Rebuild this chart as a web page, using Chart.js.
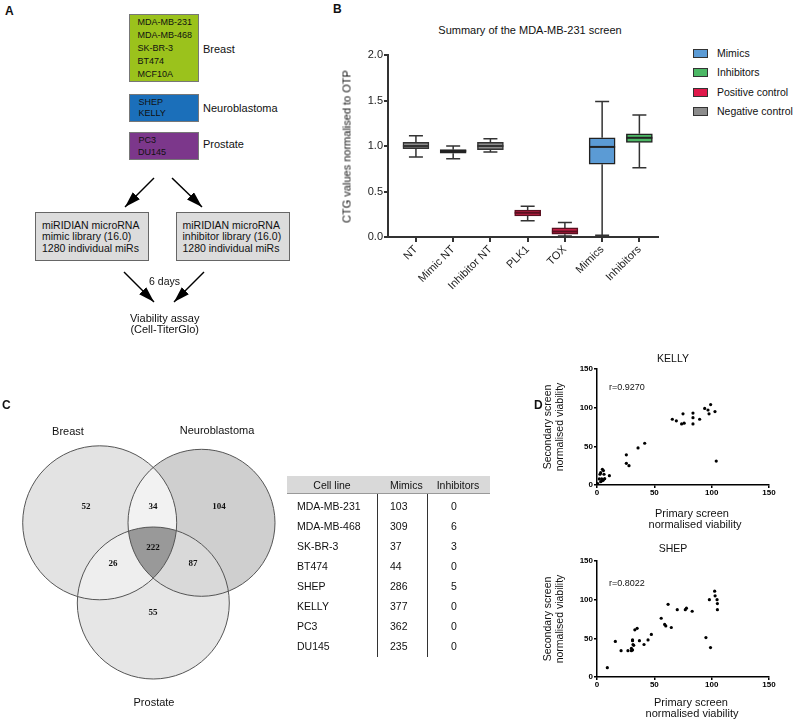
<!DOCTYPE html>
<html>
<head>
<meta charset="utf-8">
<script src="https://cdn.jsdelivr.net/npm/chart.js@4.4.1/dist/chart.umd.min.js"></script>
<style>
body { margin: 0; background: #fff; }
#fig { position: relative; width: 796px; height: 723px; overflow: hidden; font-family: "Liberation Sans", Arial, sans-serif; color: #111; }
.t { position: absolute; white-space: nowrap; }
.box { position: absolute; box-sizing: border-box; border: 1px solid #777; }
.cv { position: absolute; }
.vl { position: absolute; width: 1px; background: #333; }
</style>
</head>
<body>
<div id="fig">
  <div class="box" style="left:129px;top:14px;width:70px;height:68px;background:#9bc21c;"></div>
  <div class="box" style="left:129px;top:94px;width:70px;height:28px;background:#1b6fba;"></div>
  <div class="box" style="left:129px;top:132px;width:70px;height:28px;background:#7c378b;"></div>
  <div class="box" style="left:35px;top:212px;width:114px;height:49px;background:#dcdcdc;border-color:#666;"></div>
  <div class="box" style="left:176px;top:212px;width:114px;height:49px;background:#dcdcdc;border-color:#666;"></div>
  <svg width="796" height="723" style="position:absolute;left:0;top:0;">
    <defs>
      <marker id="ah" viewBox="0 0 16 10" refX="16" refY="5" markerWidth="16" markerHeight="10" markerUnits="userSpaceOnUse" orient="auto">
        <path d="M0,0 L16,5 L0,10 z" fill="#000"/>
      </marker>
    </defs>
    <line x1="154" y1="178" x2="125" y2="207" stroke="#000" stroke-width="1.5" marker-end="url(#ah)"/>
    <line x1="172" y1="178" x2="202" y2="207" stroke="#000" stroke-width="1.5" marker-end="url(#ah)"/>
    <line x1="124" y1="272" x2="154" y2="302" stroke="#000" stroke-width="1.5" marker-end="url(#ah)"/>
    <line x1="204" y1="272" x2="174" y2="302" stroke="#000" stroke-width="1.5" marker-end="url(#ah)"/>
  </svg>
  <div class="cv" style="left:360px;top:45px;"><canvas id="boxChart" width="310" height="280"></canvas></div>
  <div class="cv" style="left:0px;top:400px;"><canvas id="venn" width="300" height="300"></canvas></div>
  <div class="cv" style="left:538px;top:350px;"><canvas id="kelly" width="242" height="150"></canvas></div>
  <div class="cv" style="left:538px;top:542px;"><canvas id="shep" width="242" height="150"></canvas></div>
  <div style="position:absolute;left:287px;top:476px;width:203px;height:18px;background:#d9d9d9;border-bottom:1px solid #999;box-sizing:border-box;"></div>
  <div class="vl" style="left:377px;top:494px;height:163px;"></div>
  <div class="vl" style="left:427px;top:494px;height:163px;"></div>
</div>
<script>
// panel B: box plot summary
var boxLabels = ['NT', 'Mimic NT', 'Inhibitor NT', 'PLK1', 'TOX', 'Mimics', 'Inhibitors'];
var boxMin = [0.88, 0.86, 0.935, 0.178, 0.01, 0.02, 0.76];
var boxQ1 = [0.97, 0.92, 0.96, 0.233, 0.03, 0.80, 1.04];
var boxMed = [1.00, 0.945, 1.00, 0.266, 0.06, 0.99, 1.09];
var boxQ3 = [1.04, 0.96, 1.04, 0.295, 0.10, 1.09, 1.135];
var boxMax = [1.114, 1.00, 1.08, 0.339, 0.16, 1.49, 1.34];
var boxFill = ['#8c8c8c', '#5a5a5a', '#8c8c8c', '#c41f45', '#c41f45', '#5b9bd5', '#4cb865'];
var boxEdge = ['#333', '#222', '#333', '#5a1020', '#5a1020', '#222', '#222'];

var legendLabels = ['Mimics', 'Inhibitors', 'Positive control', 'Negative control'];
var legendColors = ['#5b9bd5', '#4cb865', '#e0194b', '#8c8c8c'];

// panel C
var vennSets = ['Breast', 'Neuroblastoma', 'Prostate'];
var vennCounts = [52, 34, 104, 222, 26, 87, 55];
var cellLines = ['MDA-MB-231', 'MDA-MB-468', 'SK-BR-3', 'BT474', 'SHEP', 'KELLY', 'PC3', 'DU145'];
var mimicHits = [103, 309, 37, 44, 286, 377, 362, 235];
var inhibitorHits = [0, 6, 3, 0, 5, 0, 0, 0];

// panel D
var axisTicks = [0, 50, 100, 150];
var kellyX = [0.6, 2.6, 3.2, 4.7, 5.6, 6.1, 2, 4.1, 4.7, 3.2, 5.6, 6.7, 10.8, 25.6, 25.6, 27.9, 35.8, 41.6, 65.7, 69.2, 75, 73.8, 76, 83.7, 83.7, 83.7, 89.5, 93.9, 96.8, 97.7, 99.1, 102.9, 104];
var kellyY = [1.7, 13.9, 16, 20.3, 18.6, 13.9, 7.8, 7.8, 5.6, 4.3, 6.5, 8.2, 12.1, 39, 28, 25, 48, 54, 85, 83, 92, 79, 80, 93, 87, 79, 85, 99, 97, 92, 104, 95, 31];
var shepX = [9, 16, 21, 27, 30, 31, 30, 31, 31, 31.4, 32, 33, 35, 37, 41, 44.5, 47.4, 56, 59, 60, 62, 64.8, 70, 77, 78, 83, 95, 98, 99, 102.6, 103, 104.7, 105, 105];
var shepY = [12, 46, 34, 34, 34, 35, 37, 47, 48, 42, 41, 61, 63, 47, 42, 48, 55, 76, 68, 66, 94, 64, 87, 87, 89, 85, 51, 100, 38, 111, 105, 100, 95, 87];

var FONT = '"Liberation Sans", Arial, sans-serif';
Chart.defaults.font.family = FONT;
Chart.defaults.color = '#222';

var fig = document.getElementById('fig');
// text placed without css transforms (except the one rotated title in panel B)
function T(s, x, y, o) {
  o = o || {};
  var size = o.size || 11;
  var d = document.createElement('div');
  d.className = 't';
  d.textContent = s;
  d.style.fontSize = size + 'px';
  d.style.lineHeight = size + 'px';
  d.style.top = (y - size / 2) + 'px';
  if (o.bold) d.style.fontWeight = 'bold';
  if (o.a === 'c') {
    d.style.left = (x - 200) + 'px';
    d.style.width = '400px';
    d.style.textAlign = 'center';
  } else {
    d.style.left = x + 'px';
  }
  if (o.rot) {
    d.style.transformOrigin = '200px ' + (size / 2) + 'px';
    d.style.transform = 'rotate(' + o.rot + 'deg)';
  }
  fig.appendChild(d);
}

// panel A
T('A', 5, 11, {bold: true, size: 12});
['MDA-MB-231', 'MDA-MB-468', 'SK-BR-3', 'BT474', 'MCF10A'].forEach(function(s, i) { T(s, 137.5, 22.3 + i * 13.1, {size: 9}); });
T('SHEP', 138.5, 102, {size: 9});
T('KELLY', 138.5, 113.5, {size: 9});
T('PC3', 138.5, 140, {size: 9});
T('DU145', 138, 152, {size: 9});
T('Breast', 203, 49, {size: 11});
T('Neuroblastoma', 203, 108, {size: 11});
T('Prostate', 203, 144, {size: 11});
['miRIDIAN microRNA', 'mimic library (16.0)', '1280 individual miRs'].forEach(function(s, i) { T(s, 42, 225 + i * 11.7, {size: 10.5}); });
['miRIDIAN microRNA', 'inhibitor library (16.0)', '1280 individual miRs'].forEach(function(s, i) { T(s, 182.5, 225 + i * 11.7, {size: 10.5}); });
T('6 days', 164.5, 281, {size: 10.5, a: 'c'});
T('Viability assay', 164.7, 318, {size: 11, a: 'c'});
T('(Cell-TiterGlo)', 164.7, 329.5, {size: 11, a: 'c'});

// panel B texts
T('B', 333, 9, {bold: true, size: 12});
T('Summary of the MDA-MB-231 screen', 530, 30, {size: 11, a: 'c'});
T('CTG values normalised to OTP', 347, 146, {size: 11, a: 'c', rot: -90});
legendLabels.forEach(function(s, i) {
  var y = [53, 72.3, 92.3, 111][i];
  var r = document.createElement('div');
  r.style.cssText = 'position:absolute;box-sizing:border-box;left:693px;width:15px;height:9px;border:1px solid #333;top:' + (y - 4.5) + 'px;background:' + legendColors[i];
  fig.appendChild(r);
  T(s, 717, y, {size: 10.5});
});

// panel C texts
T('C', 2, 405, {bold: true, size: 12});
T(vennSets[0], 68, 431, {size: 11, a: 'c'});
T(vennSets[1], 217, 430, {size: 11, a: 'c'});
T(vennSets[2], 154, 702, {size: 11, a: 'c'});
T('Cell line', 332, 485, {size: 10.5, a: 'c'});
T('Mimics', 390, 485, {size: 10.5});
T('Inhibitors', 458, 485, {size: 10.5, a: 'c'});
cellLines.forEach(function(s, i) {
  var y = 506.7 + i * 20;
  T(s, 297, y, {size: 10.5});
  T(String(mimicHits[i]), 390, y, {size: 10.5});
  T(String(inhibitorHits[i]), 454, y, {size: 10.5, a: 'c'});
});

// box plot
var whiskers = {
  id: 'whiskers',
  afterDatasetsDraw: function(chart) {
    var ctx = chart.ctx, xs = chart.scales.x, ys = chart.scales.y;
    ctx.save();
    for (var i = 0; i < boxLabels.length; i++) {
      var cx = xs.getPixelForValue(i);
      ctx.strokeStyle = '#333';
      ctx.lineWidth = 1.5;
      ctx.beginPath();
      ctx.moveTo(cx, ys.getPixelForValue(boxQ3[i]));
      ctx.lineTo(cx, ys.getPixelForValue(boxMax[i]));
      ctx.moveTo(cx - 7, ys.getPixelForValue(boxMax[i]));
      ctx.lineTo(cx + 7, ys.getPixelForValue(boxMax[i]));
      ctx.moveTo(cx, ys.getPixelForValue(boxQ1[i]));
      ctx.lineTo(cx, ys.getPixelForValue(boxMin[i]));
      ctx.moveTo(cx - 7, ys.getPixelForValue(boxMin[i]));
      ctx.lineTo(cx + 7, ys.getPixelForValue(boxMin[i]));
      ctx.stroke();
      ctx.strokeStyle = boxEdge[i];
      ctx.lineWidth = 2;
      ctx.beginPath();
      ctx.moveTo(cx - 13, ys.getPixelForValue(boxMed[i]));
      ctx.lineTo(cx + 13, ys.getPixelForValue(boxMed[i]));
      ctx.stroke();
    }
    ctx.restore();
  }
};

new Chart(document.getElementById('boxChart'), {
  type: 'bar',
  data: {
    datasets: [{
      data: boxLabels.map(function(l, i) { return {x: i, y: [boxQ1[i], boxQ3[i]]}; }),
      backgroundColor: boxFill,
      borderColor: boxEdge,
      borderWidth: 1.5,
      borderSkipped: false,
      barThickness: 26
    }]
  },
  options: {
    responsive: false,
    animation: false,
    layout: {padding: {top: 10, right: 12, left: 0, bottom: 0}},
    plugins: {legend: {display: false}, tooltip: {enabled: false}},
    scales: {
      x: {
        type: 'linear', min: -0.75, max: 6.5, offset: false,
        afterBuildTicks: function(s) { s.ticks = boxLabels.map(function(l, i) { return {value: i}; }); },
        afterFit: function(s) { s.height = 88; },
        grid: {offset: false, drawOnChartArea: false, tickLength: 5, color: '#333', lineWidth: 2},
        border: {color: '#333', width: 2},
        ticks: {minRotation: 45, maxRotation: 45, autoSkip: false, padding: 1, color: '#222', font: {size: 11},
                callback: function(v) { return boxLabels[v]; }}
      },
      y: {
        min: 0, max: 2,
        afterFit: function(s) { s.width = 28; },
        grid: {drawOnChartArea: false, tickLength: 4, color: '#333', lineWidth: 2},
        border: {color: '#333', width: 2},
        ticks: {stepSize: 0.5, padding: 1, color: '#222', font: {size: 11},
                callback: function(v) { return v.toFixed(1); }}
      }
    }
  },
  plugins: [whiskers]
});

// venn diagram, drawn in the chart's own coordinate system
var vennCircles = [[99.7, 122.8, 77], [201.5, 122.8, 73.5], [153.3, 203, 76]];
var vennLabelPos = [[86, 107], [153, 107], [219, 107], [153, 148], [113, 164], [193, 164], [153, 213]];
var vennFill = {a: '#e3e3e3', b: '#cfcfcf', c: '#e6e6e6', ab: '#f2f2f2', ac: '#eeeeee', bc: '#d9d9d9', abc: '#999999'};

var vennPlugin = {
  id: 'venn',
  beforeDatasetsDraw: function(chart) {
    var ctx = chart.ctx, xs = chart.scales.x, ys = chart.scales.y;
    function path(c) {
      var cx = xs.getPixelForValue(c[0]), cy = ys.getPixelForValue(c[1]);
      var r = Math.abs(xs.getPixelForValue(c[0] + c[2]) - cx);
      ctx.beginPath();
      ctx.arc(cx, cy, r, 0, Math.PI * 2);
    }
    function fillIn(clips, target, color) {
      ctx.save();
      clips.forEach(function(k) { path(vennCircles[k]); ctx.clip(); });
      path(vennCircles[target]);
      ctx.fillStyle = color;
      ctx.fill();
      ctx.restore();
    }
    fillIn([], 0, vennFill.a);
    fillIn([], 1, vennFill.b);
    fillIn([], 2, vennFill.c);
    fillIn([0], 1, vennFill.ab);
    fillIn([0], 2, vennFill.ac);
    fillIn([1], 2, vennFill.bc);
    fillIn([0, 1], 2, vennFill.abc);
    ctx.save();
    ctx.strokeStyle = '#555';
    ctx.lineWidth = 1;
    vennCircles.forEach(function(c) { path(c); ctx.stroke(); });
    ctx.restore();
  },
  afterDatasetsDraw: function(chart) {
    var ctx = chart.ctx, xs = chart.scales.x, ys = chart.scales.y;
    ctx.save();
    ctx.fillStyle = '#111';
    ctx.font = 'bold 9px "Liberation Serif", "Times New Roman", serif';
    ctx.textAlign = 'center';
    ctx.textBaseline = 'middle';
    vennCounts.forEach(function(n, i) {
      ctx.fillText(String(n), xs.getPixelForValue(vennLabelPos[i][0]), ys.getPixelForValue(vennLabelPos[i][1]));
    });
    ctx.restore();
  }
};

new Chart(document.getElementById('venn'), {
  type: 'scatter',
  data: {datasets: [{data: vennLabelPos.map(function(p) { return {x: p[0], y: p[1]}; }), pointRadius: 0}]},
  options: {
    responsive: false,
    animation: false,
    layout: {padding: 0},
    plugins: {legend: {display: false}, tooltip: {enabled: false}},
    scales: {
      x: {type: 'linear', min: 0, max: 300, display: false},
      y: {type: 'linear', min: 0, max: 300, reverse: true, display: false}
    }
  },
  plugins: [vennPlugin]
});

// scatter plots; the y-axis title is drawn by the chart itself
function scatter(id, xv, yv) {
  var axis = function(isX) {
    var a = {
      type: 'linear', min: 0, max: 150,
      afterBuildTicks: function(s) { s.ticks = axisTicks.map(function(v) { return {value: v}; }); },
      afterFit: function(s) { if (isX) s.height = 15; else s.width = 59; },
      grid: {drawOnChartArea: false, tickLength: 3, color: '#000', lineWidth: 1.5},
      border: {color: '#000', width: 1.5},
      ticks: {autoSkip: false, padding: isX ? 0 : 1, color: '#000', font: {size: 8, weight: 'bold'}}
    };
    if (!isX) {
      a.title = {display: true, text: ['Secondary screen', 'normalised viability'], color: '#111',
                 font: {size: 10.5}, padding: {top: 3.7, bottom: 0}};
    }
    return a;
  };
  return new Chart(document.getElementById(id), {
    type: 'scatter',
    data: {datasets: [{
      data: xv.map(function(x, i) { return {x: x, y: yv[i]}; }),
      backgroundColor: '#000', borderColor: '#000', pointRadius: 1.6, borderWidth: 0
    }]},
    options: {
      responsive: false,
      animation: false,
      layout: {padding: {top: 19, right: 11, left: 0, bottom: 0}},
      plugins: {legend: {display: false}, tooltip: {enabled: false}},
      scales: {x: axis(true), y: axis(false)}
    }
  });
}
scatter('kelly', kellyX, kellyY);
scatter('shep', shepX, shepY);

// panel D texts
T('D', 534, 405, {bold: true, size: 12});
T('KELLY', 673, 358, {size: 10.5, a: 'c'});
T('r=0.9270', 609, 387, {size: 9});
T('Primary screen', 692, 513, {size: 11, a: 'c'});
T('normalised viability', 695, 524.5, {size: 11, a: 'c'});
T('SHEP', 673, 548, {size: 10.5, a: 'c'});
T('r=0.8022', 609, 583, {size: 9});
T('Primary screen', 691, 702, {size: 11, a: 'c'});
T('normalised viability', 692, 713, {size: 11, a: 'c'});
</script>
</body>
</html>
